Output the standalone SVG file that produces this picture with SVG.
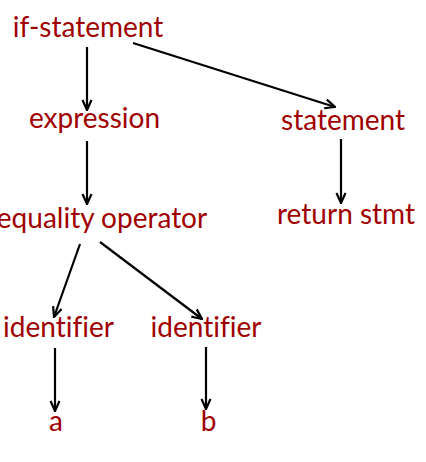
<svg xmlns="http://www.w3.org/2000/svg" width="426" height="462" viewBox="0 0 426 462">
<defs>
<marker id="ah" viewBox="0 0 12 12" refX="11" refY="6" markerWidth="12" markerHeight="12" markerUnits="userSpaceOnUse" orient="auto">
<path d="M1,1.5 L11,6 L1,10.5" fill="none" stroke="#000" stroke-width="2.2"/>
</marker>
<style>
.lbl{font-family:Lato,"Liberation Sans",sans-serif;font-size:28px;fill:#a00000;text-anchor:middle;font-variant-ligatures:none;font-feature-settings:"liga" 0}
.edge{stroke:#000;stroke-width:2.2;fill:none;marker-end:url(#ah)}
</style>
</defs>
<rect width="426" height="462" fill="#fff"/>
<g id="connectors">
<line class="edge" x1="87" y1="47" x2="87" y2="110"/>
<line class="edge" x1="87" y1="141" x2="87" y2="204"/>
<line class="edge" x1="133" y1="43" x2="335" y2="107"/>
<line class="edge" x1="341" y1="139" x2="341" y2="203"/>
<line class="edge" x1="80" y1="244" x2="54" y2="317"/>
<line class="edge" x1="100" y1="242" x2="202" y2="319"/>
<line class="edge" x1="55" y1="348" x2="55" y2="411"/>
<line class="edge" x1="206" y1="347" x2="206" y2="409"/>
</g>
<g id="n-if"><text class="lbl" x="88" y="37">if-statement</text></g>
<g id="n-expression"><text class="lbl" x="94.5" y="128">expression</text></g>
<g id="n-statement"><text class="lbl" x="343" y="130">statement</text></g>
<g id="n-equality"><text class="lbl" x="102" y="228">equality operator</text></g>
<g id="n-return"><text class="lbl" x="346" y="224">return stmt</text></g>
<g id="n-id1"><text class="lbl" x="58.5" y="337">identifier</text></g>
<g id="n-id2"><text class="lbl" x="206" y="337">identifier</text></g>
<g id="n-a"><text class="lbl" x="56" y="431">a</text></g>
<g id="n-b"><text class="lbl" x="208.5" y="431">b</text></g>
</svg>
